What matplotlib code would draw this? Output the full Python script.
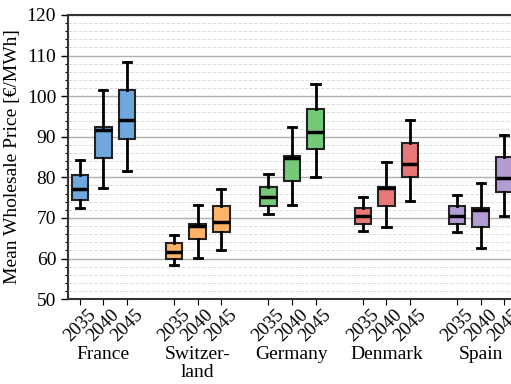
import numpy as np
import matplotlib.pyplot as plt
from matplotlib.ticker import MultipleLocator

countries = ["France", "Switzer-\nland", "Germany", "Denmark", "Spain"]
years = ["2035", "2040", "2045"]
colors = ["#6fa8dc", "#ffb366", "#77c97a", "#e87878", "#b39bd4"]

# per country, per year: whisker low, q1, median, q3, whisker high
france = [[72.4, 74.5, 77.2, 80.6, 84.2], [77.3, 84.8, 91.7, 92.4, 101.6], [81.5, 89.5, 94.2, 101.4, 108.4]]
switzerland = [[58.3, 59.8, 61.6, 63.8, 65.7], [60.2, 64.9, 68.0, 68.5, 73.3], [62.2, 66.6, 69.0, 72.9, 77.2]]
germany = [[70.9, 72.9, 75.2, 77.7, 80.9], [73.1, 79.0, 84.8, 85.2, 92.5], [80.2, 87.0, 91.1, 96.9, 103.1]]
denmark = [[66.8, 68.4, 70.4, 72.5, 75.2], [67.7, 72.9, 77.3, 77.7, 83.9], [74.2, 80.0, 83.4, 88.4, 94.2]]
spain = [[66.6, 68.4, 70.4, 72.9, 75.7], [62.7, 67.8, 72.0, 72.5, 78.6], [70.4, 76.4, 79.8, 85.1, 90.5]]
data = [france, switzerland, germany, denmark, spain]

plt.rcParams['font.family'] = ['Liberation Serif', 'DejaVu Serif']
plt.rcParams['font.size'] = 14

fig = plt.figure(figsize=(5.11, 3.84), dpi=100)
ax = fig.add_axes([0.133, 0.221, 0.877, 0.740])

ax.yaxis.set_major_locator(MultipleLocator(10))
ax.yaxis.set_minor_locator(MultipleLocator(2))
ax.grid(axis='y', which='major', color='#b0b0b0', lw=1.0, zorder=0)
ax.grid(axis='y', which='minor', color='#dddddd', lw=0.7, ls='--', zorder=0)
ax.set_axisbelow(True)

positions = []
labels = []
for g, country in enumerate(data):
    stats = []
    pos = [g * 4 + k for k in range(3)]
    for k, (lo, q1, med, q3, hi) in enumerate(country):
        stats.append(dict(whislo=lo, q1=q1, med=med, q3=q3, whishi=hi, fliers=[]))
    b = ax.bxp(stats, positions=pos, widths=0.7, patch_artist=True, showfliers=False,
               boxprops=dict(facecolor=colors[g], edgecolor='#222222', lw=1.5),
               medianprops=dict(color='black', lw=2.5),
               whiskerprops=dict(color='black', lw=2),
               capprops=dict(color='black', lw=2), capwidths=0.35)
    positions += pos
    labels += years
    ax.text(g * 4 + 1, -0.165, countries[g], transform=ax.get_xaxis_transform(),
            ha='center', va='top', fontsize=14, linespacing=1.1)

ax.set_xticks(positions)
ax.set_xticklabels(labels, rotation=45, ha='center', fontsize=13.5)
ax.set_xlim(-0.5, 18.5)
ax.set_ylim(50, 120)
ax.set_ylabel("Mean Wholesale Price [€/MWh]", labelpad=4)
ax.tick_params(axis='y', which='major', length=5, width=1)
ax.tick_params(axis='y', which='minor', length=2.5, width=0.8)
ax.tick_params(axis='x', length=4, pad=1)
for s in ax.spines.values():
    s.set_linewidth(1.5)
    s.set_color('#333333')

fig.savefig("out.png", dpi=100)
